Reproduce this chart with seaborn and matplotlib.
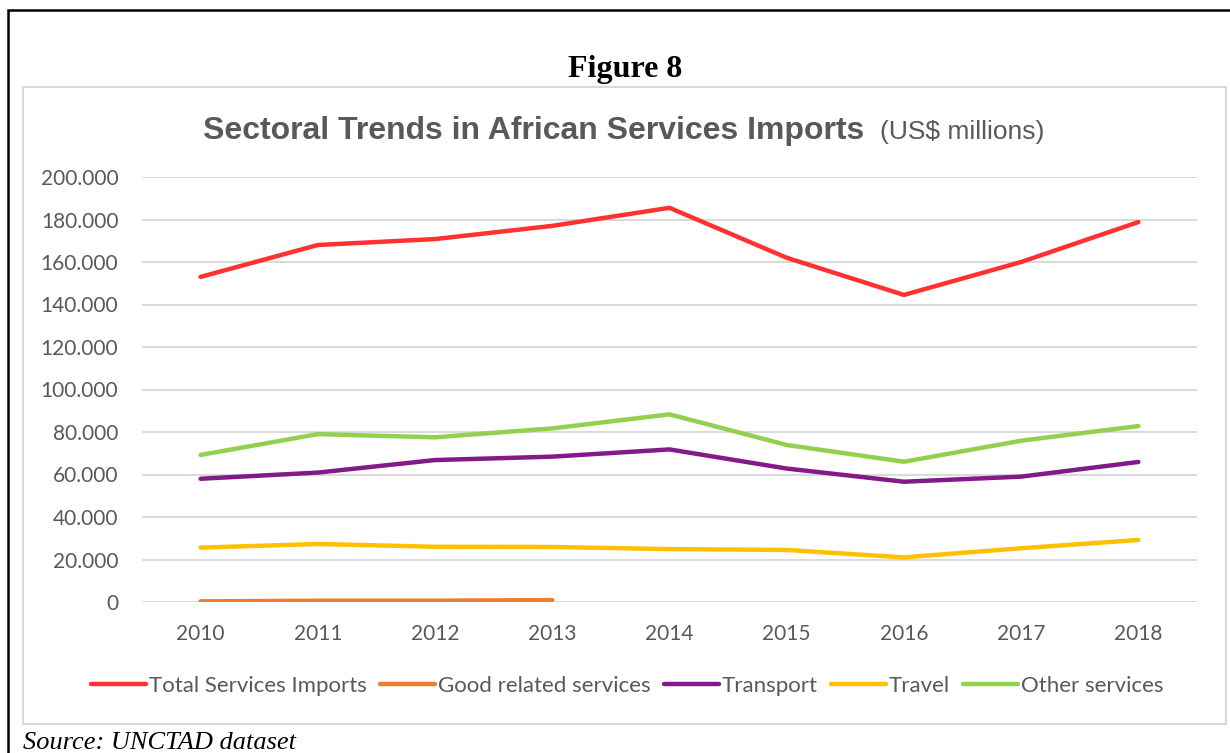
import numpy as np
import pandas as pd
import matplotlib
matplotlib.use("Agg")
import matplotlib.pyplot as plt
from matplotlib.patches import Rectangle
from matplotlib.ticker import FuncFormatter, MultipleLocator
import seaborn as sns

# Sectoral services imports, Africa, US$ millions
years = [2010, 2011, 2012, 2013, 2014, 2015, 2016, 2017, 2018]
total_services = [153000, 168000, 170800, 177000, 185500, 162000, 144500, 160000, 178800]
goods_related = [300, 600, 600, 900]          # reported 2010-2013 only
transport = [58000, 60900, 66800, 68400, 71800, 62800, 56600, 59000, 65900]
travel = [25600, 27300, 26000, 25900, 24900, 24500, 21000, 25300, 29200]
other_services = [69200, 79000, 77500, 81700, 88300, 73900, 66000, 75900, 82800]

series_names = ["Total Services Imports", "Good related services",
                "Transport", "Travel", "Other services"]
series_values = [total_services, goods_related, transport, travel, other_services]
series_colors = ["#FF3131", "#ED7D31", "#821A89", "#FFC000", "#92D050"]

rows = []
for name, vals in zip(series_names, series_values):
    for yr, v in zip(years, vals):
        rows.append({"year": yr, "value": v, "series": name})
df = pd.DataFrame(rows)

sns.set_theme(style="white")
plt.rcParams["font.family"] = ["Lato", "DejaVu Sans"]

W, H = 1230, 753
fig = plt.figure(figsize=(W / 100, H / 100), dpi=100)

def fx(px):
    return px / W

def fy(py):
    return 1 - py / H

ax = fig.add_axes([fx(142), fy(602), fx(1197) - fx(142), fy(177) - fy(602)])

sns.lineplot(data=df, x="year", y="value", hue="series", hue_order=series_names,
             palette=dict(zip(series_names, series_colors)), linewidth=3.2,
             sort=False, ax=ax, legend=True)
for ln in ax.lines:
    ln.set_solid_capstyle("round")
    ln.set_solid_joinstyle("round")

ax.set_xlim(2009.5, 2018.5)
ax.set_ylim(0, 200000)
ax.yaxis.set_major_locator(MultipleLocator(20000))
ax.yaxis.set_major_formatter(FuncFormatter(lambda v, p: f"{v:,.0f}".replace(",", ".")))
ax.set_xticks(years)
ax.set_xticklabels([str(y) for y in years])
ax.grid(axis="y", color="#D9D9D9", linewidth=1.4)
ax.set_axisbelow(True)
for s in ax.spines.values():
    s.set_visible(False)
ax.tick_params(axis="both", length=0, labelsize=15, labelcolor="#595959")
ax.tick_params(axis="y", pad=17)
ax.tick_params(axis="x", pad=15.5)
ax.set_xlabel("")
ax.set_ylabel("")

handles, labels = ax.get_legend_handles_labels()
ax.get_legend().remove()
fig.legend(handles, labels, loc="center", bbox_to_anchor=(fx(627), fy(686)),
           ncol=5, frameon=False, fontsize=16, labelcolor="#595959",
           handlelength=2.5, handletextpad=0.1, columnspacing=0.6)

# chart frame and outer box
fig.add_artist(Rectangle((fx(23), fy(724)), fx(1226) - fx(23), fy(87) - fy(724),
                         transform=fig.transFigure, fill=False,
                         edgecolor="#D9D9D9", linewidth=1.5))
fig.add_artist(Rectangle((fx(8), fy(800)), fx(1300) - fx(8), fy(10) - fy(800),
                         transform=fig.transFigure, fill=False,
                         edgecolor="black", linewidth=1.8, clip_on=False))

fig.text(fx(625), fy(70), "Figure 8", ha="center", va="center",
         fontsize=23, fontweight="bold", family="Liberation Serif", color="black")
fig.text(fx(203), fy(139), "Sectoral Trends in African Services Imports",
         ha="left", va="baseline", fontsize=23, fontweight="bold",
         family="Liberation Sans", color="#595959")
fig.text(fx(880), fy(139), "(US$ millions)", ha="left", va="baseline",
         fontsize=19, family="Liberation Sans", color="#595959")
fig.text(fx(23), fy(749), "Source: UNCTAD dataset", ha="left", va="baseline",
         fontsize=19, style="italic", family="Liberation Serif", color="black")

fig.savefig("out.png", dpi=100)
